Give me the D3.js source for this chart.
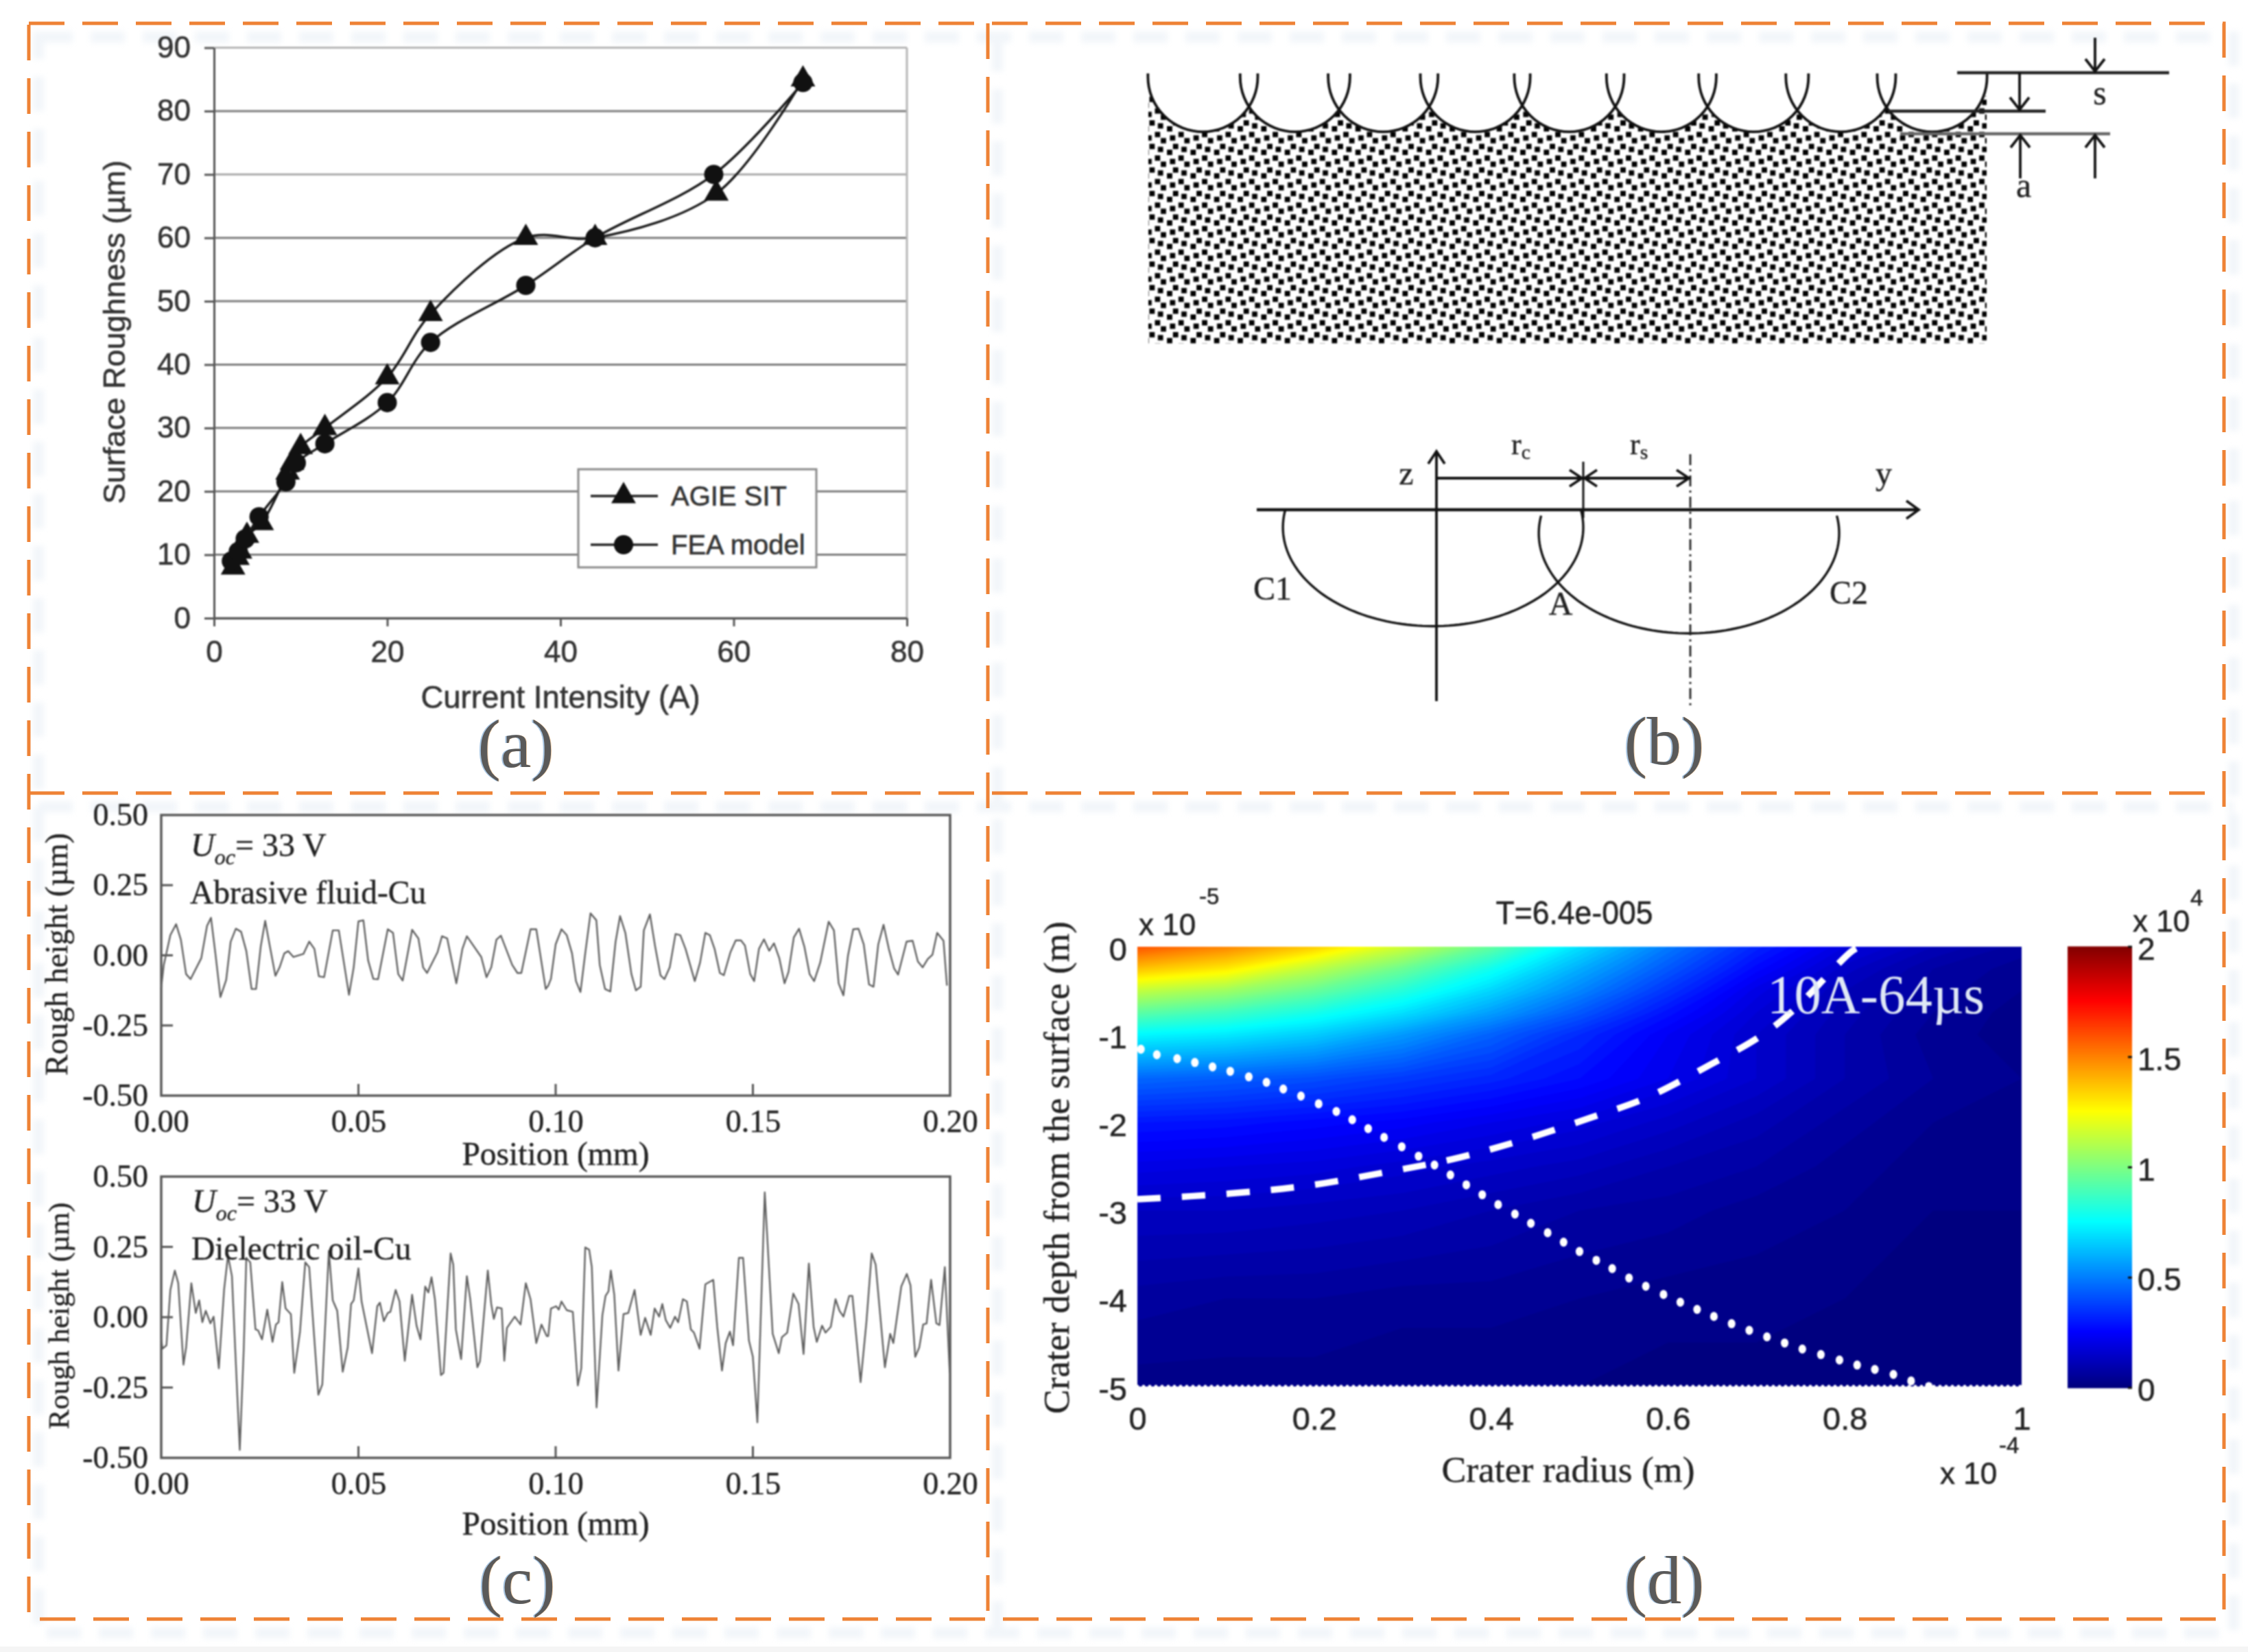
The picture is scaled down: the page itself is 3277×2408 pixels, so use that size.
<!DOCTYPE html>
<html>
<head>
<meta charset="utf-8">
<script src="https://cdn.jsdelivr.net/npm/d3@7"></script>
<style>
  html, body { margin: 0; padding: 0; background: #fff; }
  svg { display: block; }
  .sans { font-family: "Liberation Sans", Arial, sans-serif; stroke: #333; stroke-width: 0.6px; }
  .serif { font-family: "Liberation Serif", "Times New Roman", serif; stroke: #222; stroke-width: 0.4px; }
  .soft { filter: blur(1.1px); }
</style>
</head>
<body>
<svg id="figure" width="3277" height="2408"></svg>
<script>
// ---------------- panel (a) data ----------------
const currentTicks = [0, 20, 40, 60, 80];
const roughTicks = [0, 10, 20, 30, 40, 50, 60, 70, 80, 90];
const agieCurrent = [2.2, 2.7, 3, 3.8, 5.5, 8.5, 9, 10, 12.8, 20, 25, 36, 44, 58, 68];
const agieRough = [8, 9.5, 10.5, 13, 15, 23, 24.5, 27, 30, 38, 48, 60, 60, 67, 85];
const feaCurrent = [2, 2.8, 3.6, 5.2, 8.3, 9.5, 12.8, 20, 25, 36, 44, 57.7, 68];
const feaRough = [9, 10.5, 12.5, 16, 21.5, 24.5, 27.5, 34, 43.5, 52.5, 60, 70, 84.5];

// ---------------- panel (b) data, schematic units ----------------
const craterCenters = [6.5, 17.5, 28, 39, 50.2, 61.2, 72.2, 82.6, 93.5];
const hatchBandDots = [[20.7, 4.3], [8.3, 9.3], [29.3, 13.3], [12.7, 21.7], [25, 26], [4, 30.3]];

// ---------------- panel (c) data, position in um, height in um ----------------
const positionTicks = [0, 50, 100, 150, 200];
const heightTicks = [-0.5, -0.25, 0, 0.25, 0.5];
const abrasivePos = [0, .66, 2.32, 3.78, 4.98, 6.31, 7.44, 10.16, 11.62, 12.62, 13.81, 15.01, 16.47, 17.6, 18.92, 20.25, 21.58, 22.91, 24.04, 25.23, 26.36, 27.56, 28.95, 30.01, 31.21, 32.2, 33.53, 36.06, 37.52, 38.84, 39.97, 41.3, 43.49, 45.02, 47.61, 48.8, 50, 51.26, 52.46, 53.78, 54.98, 57.44, 58.77, 60.09, 61.22, 63.61, 65.21, 66.4, 67.4, 70.05, 71.18, 72.51, 74.83, 76.36, 77.49, 81.14, 82.47, 83.67, 84.99, 86.12, 88.98, 90.31, 91.3, 93.63, 95.09, 97.48, 98.13, 98.8, 100, 101.47, 102.81, 104.15, 105.15, 106.29, 107.5, 108.84, 110.31, 111.18, 112.52, 113.86, 115.19, 116.33, 117.67, 119.21, 120.35, 121.55, 122.36, 123.9, 125.23, 126.57, 127.58, 128.92, 130.39, 131.59, 132.93, 135.27, 136.61, 137.95, 139.09, 140.29, 141.63, 142.64, 144.31, 145.65, 146.99, 147.99, 149.33, 150.33, 151.54, 152.81, 154.15, 155.35, 156.69, 158.03, 159.04, 160.38, 161.71, 163.05, 164.39, 165.53, 167.07, 169.21, 170.55, 171.75, 172.96, 174.1, 175.44, 176.77, 178.11, 179.45, 180.59, 181.79, 183.13, 184.47, 185.81, 186.81, 188.96, 190.5, 191.83, 193.04, 194.31, 195.52, 196.72, 198.33, 199.2];
const abrasiveHeight = [-.116, -.034, .072, .111, .056, -.067, -.085, -.01, .105, .134, -.002, -.149, -.088, .048, .095, .084, .015, -.12, -.12, .031, .123, .031, -.073, -.043, .007, .015, -.006, .005, .049, .023, -.075, -.078, .089, .089, -.141, -.043, .121, .125, -.018, -.084, -.085, .093, .08, -.067, -.09, .091, .06, -.043, -.063, .011, .068, .06, -.1, .023, .068, -.006, -.078, -.043, .056, .07, -.034, -.063, -.063, .093, .093, -.12, -.108, -.084, .039, .093, .072, .007, -.092, -.131, .007, .15, .125, -.034, -.12, -.129, .048, .14, .08, -.067, -.125, -.112, .089, .146, .031, -.071, -.085, -.043, .076, .072, .023, -.092, -.026, .08, .072, .023, -.063, -.071, .011, .053, .053, .035, -.067, -.092, .023, .057, .016, .043, -.01, -.1, -.059, .064, .095, .031, -.067, -.092, -.026, .12, .089, -.1, -.143, -.002, .093, .095, .039, -.104, -.112, .039, .109, .023, -.047, -.069, .049, .052, -.022, -.043, -.014, .002, .08, .052, -.108];
const oilPos = [0, .33, 1.33, 2.32, 3.45, 4.32, 5.64, 6.31, 7.64, 8.76, 9.63, 10.43, 11.29, 12.48, 13.28, 14.61, 15.94, 16.93, 17.93, 19.92, 20.92, 21.58, 22.58, 23.9, 24.57, 25.56, 26.89, 28.22, 29.08, 29.75, 30.68, 31.54, 32.87, 33.73, 35.19, 36.52, 37.52, 39.84, 40.84, 42.5, 43.49, 44.62, 46.02, 47.28, 48.14, 48.8, 50, 50.8, 53.45, 54.78, 55.44, 56.44, 57.44, 58.1, 59.43, 60.42, 61.75, 63.61, 64.74, 65.74, 66.93, 67.73, 68.53, 69.39, 70.92, 71.58, 73.37, 74.04, 74.7, 76.03, 77.49, 78.35, 80.15, 80.81, 82.8, 83.67, 84.33, 85.13, 86.32, 86.98, 87.65, 89.64, 91.1, 92.43, 93.63, 95.09, 96.41, 97.74, 98.13, 98.8, 100.13, 100.8, 101.47, 102.81, 104.35, 105.62, 106.49, 107.5, 108.5, 109.17, 110.37, 111.85, 112.65, 113.39, 113.99, 114.86, 115.93, 117.2, 118.41, 120.01, 121.55, 122.69, 124.1, 125.1, 126.24, 127.04, 127.91, 129.05, 130.25, 131.06, 132.26, 133.27, 134.27, 135.07, 136.48, 137.95, 139.96, 140.96, 142.17, 143.11, 144.18, 144.98, 146.45, 147.52, 149, 150, 151.14, 153.01, 155.02, 156.56, 157.36, 158.7, 160.24, 161.58, 162.85, 164.19, 165.4, 166.2, 167.54, 168.41, 169.75, 170.95, 171.95, 172.96, 174.43, 175.23, 177.31, 178.78, 180.12, 181.13, 183.47, 184.81, 185.61, 187.62, 189.02, 189.96, 191.16, 192.17, 193.17, 194.04, 195.18, 196.52, 197.32, 198.66, 199.9];
const oilHeight = [-.075, -.112, -.1, .097, .166, .121, -.169, -.108, .121, .015, .06, -.018, .023, -.022, .002, -.182, .097, .219, .146, -.472, -.116, .211, .195, -.043, -.047, -.079, .027, -.088, -.026, -.018, .125, .031, .011, -.198, -.051, .195, .178, -.276, -.239, .236, .06, .023, -.194, -.108, .047, .06, .174, .056, -.128, .039, .052, -.014, .015, .019, .097, .056, -.155, .08, -.03, -.079, .109, .088, .142, .064, -.206, -.198, .227, .187, -.043, -.149, .146, .064, -.178, -.157, .166, .047, -.006, .035, .031, -.155, -.038, .002, -.026, .121, .064, -.092, -.026, -.067, -.067, .031, .039, .027, .056, .025, .019, -.243, -.182, .248, .24, .178, -.321, .007, .076, .092, .166, .08, -.19, .011, .015, .097, -.063, -.002, -.063, .031, .002, .047, -.01, -.038, .002, -.018, .064, .056, -.043, -.055, -.112, .117, .133, -.034, -.19, -.092, -.051, -.1, .211, .211, -.083, -.141, -.374, .444, -.059, -.128, -.071, -.055, .084, .047, -.131, .191, -.034, -.088, -.03, -.055, -.034, .064, .023, .002, .076, .076, -.231, -.018, .227, .187, -.178, -.059, -.092, .109, .154, .113, -.141, -.108, -.026, -.022, .133, -.022, -.028, .178, -.198];

// ---------------- panel (d) data ----------------
const radiusTicks = [0, 0.2, 0.4, 0.6, 0.8, 1];
const depthTicks = [0, -1, -2, -3, -4, -5];
const tempTicks = [0, 0.5, 1, 1.5, 2];
const radiusColumns = [0, .1, .2, .3, .4, .5, .6, .7, .8, .9, 1];
const depthRows = [0, -.25, -.5, -.75, -1, -1.5, -2, -2.5, -3, -4, -5];
const tempRows = [
  [1.6, 1.5, 1.36, 1.16, .95, .7, .5, .33, .2, .12, .07],
  [1.38, 1.3, 1.13, .97, .79, .6, .43, .27, .15, .08, .05],
  [1.14, 1.07, .96, .83, .68, .52, .36, .21, .12, .07, .04],
  [.94, .88, .8, .7, .57, .43, .29, .18, .11, .06, .03],
  [.75, .72, .66, .56, .45, .34, .24, .16, .1, .05, .03],
  [.46, .44, .41, .37, .33, .28, .22, .16, .1, .06, .04],
  [.3, .29, .27, .25, .22, .19, .15, .11, .07, .04, .03],
  [.21, .2, .19, .17, .15, .13, .1, .08, .05, .03, .02],
  [.14, .14, .13, .12, .1, .08, .07, .05, .04, .02, .02],
  [.07, .06, .06, .05, .05, .04, .03, .03, .02, .01, .01],
  [.03, .03, .03, .02, .02, .02, .01, .01, .01, .01, .01]
];
const jetValues = [0, .25, .75, 1.25, 1.75, 2];
const jetColors = ["#00007f", "#0000ff", "#00ffff", "#ffff00", "#ff0000", "#7f0000"];
const dotRadius = [.004, .022, .045, .065, .085, .105, .126, .146, .165, .185, .205, .225, .243, .261, .279, .299, .318, .336, .354, .372, .39, .408, .427, .445, .464, .482, .5, .519, .537, .556, .575, .595, .614, .633, .652, .672, .692, .712, .732, .752, .773, .794, .814, .834, .855, .875, .895];
const dotDepth = [-1.165, -1.228, -1.272, -1.316, -1.366, -1.416, -1.479, -1.541, -1.617, -1.698, -1.786, -1.873, -1.967, -2.068, -2.168, -2.274, -2.381, -2.481, -2.594, -2.707, -2.82, -2.932, -3.039, -3.145, -3.252, -3.359, -3.465, -3.565, -3.659, -3.766, -3.86, -3.954, -4.041, -4.123, -4.204, -4.286, -4.361, -4.436, -4.505, -4.574, -4.637, -4.699, -4.756, -4.806, -4.862, -4.937, -5];
const dashRadius = [0, .104, .195, .285, .358, .431, .513, .577, .649, .704, .74, .808, .817];
const dashDepth = [-2.87, -2.807, -2.713, -2.556, -2.412, -2.211, -1.942, -1.711, -1.335, -1.021, -.739, -.05, 0];

const svg = d3.select("#figure");
const zip = (a, b) => a.map((v, i) => [v, b[i]]);

function label(parent, x, y, str, size, cls, opts = {}) {
    const t = parent.append("text").attr("class", cls).attr("x", x).attr("y", y)
        .attr("font-size", size).attr("fill", opts.fill || "#222")
        .attr("text-anchor", opts.anchor || "start").text(str);
    if (opts.rotate) t.attr("transform", `rotate(-90,${x},${y})`);
    if (opts.italic) t.attr("font-style", "italic");
    if (opts.fit) t.attr("textLength", opts.fit).attr("lengthAdjust", "spacingAndGlyphs");
    return t;
}

const defs = svg.append("defs");
const ARROW = "M-14,-18 L0,0 L14,-18 M0,0 L0,-4";

// --- dashed frame, with the faint ghost of it behind ---
const framePath = "M42,34 H3242 V2360 H42 Z M1440,34 V2360 M42,1156 H3242";
svg.append("rect").attr("y", 2400).attr("width", 3277).attr("height", 8).attr("fill", "#f5f5f5");
svg.append("path").attr("d", framePath).attr("transform", "translate(14,20)")
    .attr("fill", "none").attr("stroke", "#f2f6fa").attr("stroke-width", 16)
    .attr("stroke-dasharray", "50 26").style("filter", "blur(4px)");
svg.append("path").attr("d", framePath).attr("fill", "none")
    .attr("stroke", "#ee8235").attr("stroke-width", 5).attr("stroke-dasharray", "52 26");

// --- (a) surface roughness ---
{
    const g = svg.append("g").attr("class", "soft");
    const x = d3.scaleLinear().domain([0, 80]).range([312, 1322]);
    const y = d3.scaleLinear().domain([0, 90]).range([901, 69.5]);

    g.selectAll(".grid").data(roughTicks).join("line")
        .attr("x1", 312).attr("x2", 1322)
        .attr("y1", d => y(d)).attr("y2", d => y(d))
        .attr("stroke", d => d === 90 ? "#b5b5b5" : (d === 70 ? "#aaa" : "#7c7c7c")).attr("stroke-width", 3);
    g.append("line").attr("x1", 1322).attr("x2", 1322).attr("y1", 69.5).attr("y2", 901)
        .attr("stroke", "#b5b5b5").attr("stroke-width", 3);

    const styleAxis = (sel) => {
        sel.select(".domain").attr("stroke", "#555").attr("stroke-width", 3);
        sel.selectAll(".tick line").attr("stroke", "#555").attr("stroke-width", 3);
        sel.selectAll("text").attr("class", "sans").attr("font-size", 44).attr("fill", "#333");
    };
    g.append("g").attr("transform", "translate(312,0)")
        .call(d3.axisLeft(y).tickValues(roughTicks).tickSize(14).tickSizeOuter(0).tickPadding(20))
        .call(styleAxis);
    g.append("g").attr("transform", "translate(0,901)")
        .call(d3.axisBottom(x).tickValues(currentTicks).tickSize(12).tickSizeOuter(0).tickPadding(21))
        .call(styleAxis);

    const line = d3.line().x(d => x(d[0])).y(d => y(d[1])).curve(d3.curveCatmullRom);
    const series = [
        { pts: zip(agieCurrent, agieRough), shape: d3.symbolTriangle, size: 560 },
        { pts: zip(feaCurrent, feaRough), shape: d3.symbolCircle, size: 620 }
    ];
    series.forEach(s => {
        g.append("path").attr("d", line(s.pts)).attr("fill", "none").attr("stroke", "#1a1a1a").attr("stroke-width", 3.4);
        g.selectAll(null).data(s.pts).join("path")
            .attr("d", d3.symbol().type(s.shape).size(s.size))
            .attr("transform", d => `translate(${x(d[0])},${y(d[1])})`).attr("fill", "#111");
    });

    // legend
    const leg = g.append("g");
    leg.append("rect").attr("x", 843).attr("y", 684).attr("width", 347).attr("height", 143)
        .attr("fill", "#fff").attr("stroke", "#8a8a8a").attr("stroke-width", 3);
    series.forEach((s, i) => {
        const ly = 723 + i * 71;
        leg.append("line").attr("x1", 861).attr("x2", 959).attr("y1", ly).attr("y2", ly).attr("stroke", "#222").attr("stroke-width", 3.4);
        leg.append("path").attr("d", d3.symbol().type(s.shape).size(s.size)).attr("transform", `translate(909,${ly})`).attr("fill", "#111");
        label(leg, 978, ly + 14, ["AGIE SIT", "FEA model"][i], 40, "sans", { fill: "#333" });
    });

    label(g, 182, 484, "Surface Roughness (µm)", 45, "sans", { rotate: true, anchor: "middle", fill: "#333" });
    label(g, 817, 1032, "Current Intensity (A)", 45.5, "sans", { anchor: "middle", fill: "#333" });
}

// --- (b) schematic of the crater overlap ---
{
    const g = svg.append("g").attr("class", "soft").style("filter", "blur(0.9px)");
    const sx = d3.scaleLinear().domain([0, 100]).range([1674, 2896]);
    const craterR = sx(6.55) - sx(0), craterY = 112;
    const sketchLine = "#111";

    const tile = defs.append("pattern").attr("id", "grain").attr("patternUnits", "userSpaceOnUse")
        .attr("x", 2010).attr("y", 329).attr("width", 34.33).attr("height", 34.3);
    tile.selectAll("rect").data(hatchBandDots).join("rect")
        .attr("x", d => d[0] - 3.9).attr("y", d => d[1] - 3.9).attr("width", 7.8).attr("height", 7.8).attr("fill", "#000");
    g.append("rect").attr("x", 1674).attr("y", 140).attr("width", 1222).attr("height", 361).attr("fill", "url(#grain)");

    const craterPath = c => {
        const cx = sx(c), arc = d3.path();
        arc.moveTo(cx - craterR, 107);
        arc.lineTo(cx - craterR, craterY);
        arc.arc(cx, craterY, craterR, Math.PI, 0, true);
        arc.lineTo(cx + craterR, 107);
        return arc.toString();
    };
    // white bowl of each crater over the grain, then its outline
    g.selectAll(".bowl").data(craterCenters).join("path").attr("d", craterPath).attr("fill", "#fff");
    g.selectAll(".rim").data(craterCenters).join("path").attr("d", craterPath)
        .attr("fill", "none").attr("stroke", sketchLine).attr("stroke-width", 3.8);

    // dimension lines s and a
    const rule = (x1, x2, yy, col) => g.append("line").attr("x1", x1).attr("x2", x2).attr("y1", yy).attr("y2", yy).attr("stroke", col || "#222").attr("stroke-width", 4.4);
    const vert = (xx, y1, y2, col, w) => g.append("line").attr("x1", xx).attr("x2", xx).attr("y1", y1).attr("y2", y2).attr("stroke", col || sketchLine).attr("stroke-width", w || 3.8);
    const head = (xx, yy, angle) => g.append("path").attr("d", ARROW).attr("transform", `translate(${xx},${yy}) rotate(${angle})`)
        .attr("fill", "none").attr("stroke", sketchLine).attr("stroke-width", 3.8);
    rule(2853, 3162, 106);
    rule(2753, 2982, 162);
    rule(2770, 3076, 195, "#666");
    vert(3054, 55, 104); head(3054, 104, 0);
    vert(2944, 106, 160); head(2944, 160, 0);
    vert(2945, 197, 260); head(2945, 197, 180);
    vert(3054, 197, 260); head(3054, 197, 180);
    label(g, 3061, 152, "s", 50, "serif", { anchor: "middle" });
    label(g, 2950, 287, "a", 50, "serif", { anchor: "middle" });

    // lower sketch: two overlapping craters on the y axis
    const by = d3.scaleLinear().domain([0, 1]).range([2094, 2308]);
    const bz = d3.scaleLinear().domain([0, 1]).range([743, 529]);
    const ellipseArc = (cy, cz, rx, rz, zTop) => {
        const from = Math.asin((zTop - cz) / rz);
        const pts = d3.range(-1, 1.0001, 0.02).map(t => {
            const a = t * (Math.PI / 2 + from);
            return [by(cy) + (by(rx) - by(0)) * Math.sin(a), bz(cz) + (bz(0) - bz(rz)) * Math.cos(a)];
        });
        return d3.line()(pts);
    };
    g.append("path").attr("d", ellipseArc(-0.023, -0.12, 1.023, 0.673, 0)).attr("fill", "none").attr("stroke", sketchLine).attr("stroke-width", 3.4);
    g.append("path").attr("d", ellipseArc(1.72, -0.16, 1.023, 0.682, -0.04)).attr("fill", "none").attr("stroke", sketchLine).attr("stroke-width", 3.4);
    g.append("line").attr("x1", 1832).attr("x2", 2795).attr("y1", bz(0)).attr("y2", bz(0)).attr("stroke", sketchLine).attr("stroke-width", 4.4);
    g.append("path").attr("d", "M-18,-13 L0,0 L-18,13").attr("transform", `translate(2797,${bz(0)})`).attr("fill", "none").attr("stroke", sketchLine).attr("stroke-width", 3.8);
    vert(by(0), 660, 1022);
    g.append("path").attr("d", "M-12,18 L0,0 L12,18").attr("transform", `translate(${by(0)},658)`).attr("fill", "none").attr("stroke", sketchLine).attr("stroke-width", 3.8);
    vert(by(1), 673, 755, sketchLine, 3);
    vert(2464, 662, 1028, "#222", 2.8).attr("stroke-dasharray", "16 6 3 6");
    g.append("line").attr("x1", by(0)).attr("x2", 2464).attr("y1", 697).attr("y2", 697).attr("stroke", sketchLine).attr("stroke-width", 3.8);
    const sideHead = (xx, dir) => g.append("path").attr("d", `M${-dir * 18},-12 L0,0 L${-dir * 18},12`).attr("transform", `translate(${xx},697)`).attr("fill", "none").attr("stroke", sketchLine).attr("stroke-width", 3.8);
    sideHead(by(1) - 2, 1); sideHead(by(1) + 2, -1); sideHead(2462, 1);

    const rLabel = (xx, sub) => {
        const t = label(g, xx, 662, "r", 44, "serif");
        t.append("tspan").attr("font-size", 30).attr("dy", 7).text(sub);
    };
    rLabel(2203, "c"); rLabel(2376, "s");
    label(g, 2050, 706, "z", 48, "serif", { anchor: "middle" });
    label(g, 2746, 706, "y", 48, "serif", { anchor: "middle" });
    label(g, 1827, 874, "C1", 48, "serif");
    label(g, 2275, 896, "A", 48, "serif", { anchor: "middle" });
    label(g, 2667, 880, "C2", 48, "serif");
}

// --- (c) two roughness profiles ---
{
    const g = svg.append("g").attr("class", "soft");
    const panels = [
        { top: 1188, bottom: 1597, pos: abrasivePos, h: abrasiveHeight, ux: 278, uy: 1248, name: "Abrasive fluid-Cu", nx: 277, ny: 1317, ty: 1391, tb: 98, ts: 46, xt: 1698 },
        { top: 1715, bottom: 2125, pos: oilPos, h: oilHeight, ux: 280, uy: 1767, name: "Dielectric oil-Cu", nx: 279, ny: 1836, ty: 1918, tb: 100, ts: 43, xt: 2237 }
    ];
    const x = d3.scaleLinear().domain([0, 200]).range([235, 1385]);
    panels.forEach(p => {
        const y = d3.scaleLinear().domain([-0.5, 0.5]).range([p.bottom, p.top]);
        g.append("rect").attr("x", 235).attr("y", p.top).attr("width", 1150).attr("height", p.bottom - p.top)
            .attr("fill", "none").attr("stroke", "#555").attr("stroke-width", 3.4);

        const yAxis = d3.axisLeft(y).tickValues(heightTicks).tickSize(0).tickPadding(19).tickFormat(d => d.toFixed(2));
        const xAxis = d3.axisBottom(x).tickValues(positionTicks).tickSize(0).tickPadding(20).tickFormat(d => (d / 1000).toFixed(2));
        [g.append("g").attr("transform", "translate(235,0)").call(yAxis),
         g.append("g").attr("transform", `translate(0,${p.bottom})`).call(xAxis)].forEach(a => {
            a.select(".domain").remove();
            a.selectAll("text").attr("class", "serif").attr("font-size", 46).attr("fill", "#222");
        });
        g.selectAll(null).data(heightTicks.slice(1, 4)).join("line")
            .attr("x1", 235).attr("x2", 252).attr("y1", d => y(d)).attr("y2", d => y(d))
            .attr("stroke", "#555").attr("stroke-width", 3);
        g.selectAll(null).data(positionTicks.slice(1, 4)).join("line")
            .attr("x1", d => x(d)).attr("x2", d => x(d)).attr("y1", p.bottom).attr("y2", p.bottom - 17)
            .attr("stroke", "#555").attr("stroke-width", 3);

        g.append("path").attr("d", d3.line().x(d => x(d[0])).y(d => y(d[1]))(zip(p.pos, p.h)))
            .attr("fill", "none").attr("stroke", "#5e5e5e").attr("stroke-width", 2.4).attr("stroke-linejoin", "round");

        const u = label(g, p.ux, p.uy, "", 48, "serif");
        u.append("tspan").attr("font-style", "italic").text("U");
        u.append("tspan").attr("font-style", "italic").attr("font-size", 32).attr("dy", 12).text("oc");
        u.append("tspan").attr("dy", -12).text("= 33 V");
        label(g, p.nx, p.ny, p.name, 47.5, "serif");
        label(g, 810, p.xt, "Position (mm)", 47.5, "serif", { anchor: "middle" });
        label(g, p.tb, p.ty, "Rough height (µm)", p.ts, "serif", { rotate: true, anchor: "middle" });
    });
}

// --- (d) temperature field ---
{
    const g = svg.append("g").attr("class", "soft");
    const x = d3.scaleLinear().domain([0, 1]).range([1658, 2947]);
    const y = d3.scaleLinear().domain([-5, 0]).range([2021, 1380]);
    const color = d3.scaleLinear().domain(jetValues).range(jetColors).clamp(true);

    // filled contours on the read grid, rows are not evenly spaced so map index to depth
    const nx = radiusColumns.length, ny = depthRows.length;
    const colPos = d3.scaleLinear().domain(d3.range(nx)).range(radiusColumns);
    const rowPos = d3.scaleLinear().domain(d3.range(ny)).range(depthRows);
    const clampIdx = (v, n) => Math.max(0, Math.min(n - 1, v - 0.5));
    const path = d3.geoPath(d3.geoTransform({
        point(px, py) { this.stream.point(x(colPos(clampIdx(px, nx))), y(rowPos(clampIdx(py, ny)))); }
    }));
    const levels = d3.range(0, 2.001, 0.02);
    const bands = d3.contours().size([nx, ny]).thresholds(levels)(tempRows.flat());
    g.selectAll(".band").data(bands).join("path")
        .attr("d", path).attr("fill", d => color(d.value));

    // boundary curves
    g.append("path").attr("d", d3.line().x(d => x(d[0])).y(d => y(d[1])).curve(d3.curveCatmullRom)(zip(dashRadius, dashDepth)))
        .attr("fill", "none").attr("stroke", "#fff").attr("stroke-width", 9.5).attr("stroke-dasharray", "34 31");
    g.selectAll(".dot").data(zip(dotRadius, dotDepth)).join("ellipse")
        .attr("cx", d => x(d[0])).attr("cy", d => y(d[1])).attr("rx", 5.6).attr("ry", 6.6).attr("fill", "#fff");
    g.append("line").attr("x1", x(0)).attr("x2", x(1)).attr("y1", y(-5)).attr("y2", y(-5))
        .attr("stroke", "#fff").attr("stroke-width", 5).attr("stroke-linecap", "round").attr("stroke-dasharray", "0 9");

    label(g, 2576, 1477, "10A-64µs", 80, "serif", { fill: "#dfe8f6", fit: 317 }).style("stroke", "none");

    // axes
    const xAxis = d3.axisBottom(x).tickValues(radiusTicks).tickSize(0).tickPadding(30).tickFormat(d => d);
    const yAxis = d3.axisLeft(y).tickValues(depthTicks).tickSize(0).tickPadding(15).tickFormat(d => d);
    [g.append("g").attr("transform", "translate(0,2021)").call(xAxis),
     g.append("g").attr("transform", "translate(1658,4)").call(yAxis)].forEach(a => {
        a.select(".domain").remove();
        a.selectAll("text").attr("class", "sans").attr("font-size", 47).attr("fill", "#222");
    });

    label(g, 2295, 1347, "T=6.4e-005", 48, "sans", { anchor: "middle", fit: 229 });
    label(g, 1660, 1363, "x 10", 44, "sans");
    label(g, 1748, 1318, "-5", 33, "sans");
    label(g, 2828, 2163, "x 10", 44, "sans");
    label(g, 2914, 2118, "-4", 33, "sans");
    label(g, 1558, 1702, "Crater depth from the surface (m)", 52, "serif", { rotate: true, anchor: "middle", fit: 718 });
    label(g, 2286, 2160, "Crater radius (m)", 52, "serif", { anchor: "middle", fit: 369 });

    // colour bar
    const barY = d3.scaleLinear().domain([0, 2]).range([2023, 1380]);
    const steps = d3.range(0, 2, 0.0125);
    g.selectAll(".bar").data(steps).join("rect")
        .attr("x", 3014).attr("width", 94)
        .attr("y", d => barY(d + 0.0125) - 0.5).attr("height", d => barY(d) - barY(d + 0.0125) + 1)
        .attr("fill", d => color(d));
    const barAxis = d3.axisRight(barY).tickValues(tempTicks).tickSize(0).tickPadding(8).tickFormat(d => d);
    const ba = g.append("g").attr("transform", "translate(3108,4)").call(barAxis);
    ba.select(".domain").remove();
    ba.selectAll("text").attr("class", "sans").attr("font-size", 46).attr("fill", "#222");
    g.selectAll(null).data(tempTicks).join("line")
        .attr("x1", 3102).attr("x2", 3108).attr("y1", d => barY(d)).attr("y2", d => barY(d))
        .attr("stroke", "#111").attr("stroke-width", 3);
    label(g, 3109, 1358, "x 10", 44, "sans");
    label(g, 3193, 1320, "4", 33, "sans");
}

// --- panel letters, slight colour fringe as in the source ---
const letters = [["(a)", 752, 1118], ["(b)", 2426, 1114], ["(c)", 754, 2337], ["(d)", 2426, 2337]];
letters.forEach(([s, lx, ly]) => {
    label(svg, lx, ly, s, 100, "serif", { anchor: "middle", fill: "#5a5a5a" })
        .style("stroke", "none")
        .style("filter", "drop-shadow(-1.5px 0 #a9c6e2) drop-shadow(1.5px 0 #efd0ae) blur(0.6px)");
});
</script>
</body>
</html>
